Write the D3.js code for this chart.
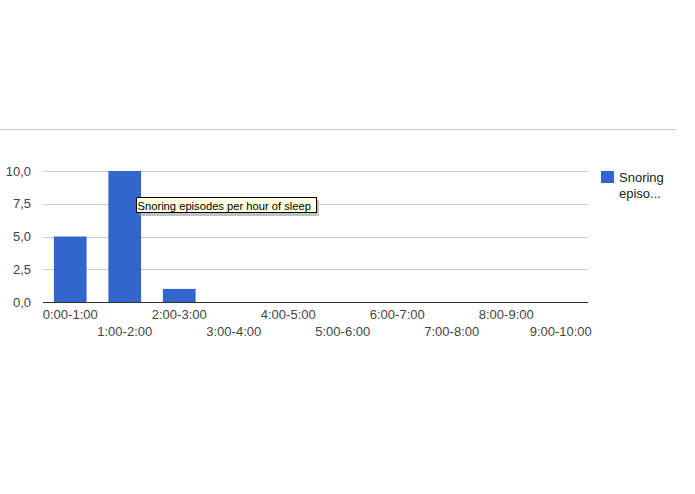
<!DOCTYPE html>
<html><head><meta charset="utf-8">
<script src="https://cdn.jsdelivr.net/npm/d3@7/dist/d3.min.js"></script>
<style>body{margin:0;background:#fff;}svg{display:block;font-family:Arial,"Liberation Sans",sans-serif;}</style>
</head><body>
<svg id="c" width="695" height="494"></svg>
<script>
const categories = ["0:00-1:00","1:00-2:00","2:00-3:00","3:00-4:00","4:00-5:00","5:00-6:00","6:00-7:00","7:00-8:00","8:00-9:00","9:00-10:00"];
const values = [5, 10, 1, 0, 0, 0, 0, 0, 0, 0];
const yTicks = [0, 2.5, 5, 7.5, 10];
const seriesName = "Snoring episodes per hour of sleep";
const legendLines = ["Snoring", "episo..."];

(function(){
const svg = d3.select("#c");
const pLeft = 43, pRight = 588, pTop = 171, pBottom = 302;

// top separator line
svg.append("line").attr("x1",0).attr("x2",677).attr("y1",129.5).attr("y2",129.5)
  .attr("stroke","#cccccc").attr("stroke-width",1);

const x = d3.scaleBand().domain(categories).range([pLeft, pRight]).paddingInner(0.4).paddingOuter(0.2);
const y = d3.scaleLinear().domain([0, 10]).range([pBottom, pTop]);

const fmt = d => d3.format(".1f")(d).replace(".", ",");

// gridlines
svg.append("g").selectAll("line").data(yTicks.filter(d=>d>0)).join("line")
  .attr("x1",pLeft).attr("x2",pRight)
  .attr("y1",d=>Math.round(y(d))+0.5).attr("y2",d=>Math.round(y(d))+0.5)
  .attr("stroke","#cccccc");

// y labels
svg.append("g").selectAll("text").data(yTicks).join("text")
  .attr("x",31).attr("y",d=>y(d)+4.5).attr("text-anchor","end")
  .attr("font-size",13).attr("fill","#444").text(fmt);

// bars
svg.append("g").selectAll("rect").data(values.map((v,i)=>({c:categories[i],v}))).join("rect")
  .attr("x",d=>x(d.c)).attr("width",x.bandwidth())
  .attr("y",d=>y(d.v)).attr("height",d=>y(0)-y(d.v))
  .attr("fill","#3366cc");

// baseline axis
svg.append("line").attr("x1",pLeft).attr("x2",pRight).attr("y1",pBottom+0.5).attr("y2",pBottom+0.5)
  .attr("stroke","#333").attr("stroke-width",1);

// x labels (alternating rows)
svg.append("g").selectAll("text").data(categories).join("text")
  .attr("x",d=>x(d)+x.bandwidth()/2).attr("y",(d,i)=> i%2===0 ? 319 : 336)
  .attr("text-anchor","middle").attr("font-size",13).attr("fill","#444").text(d=>d);

// legend
svg.append("rect").attr("x",601).attr("y",171).attr("width",13).attr("height",12).attr("fill","#3366cc");
svg.append("g").selectAll("text").data(legendLines).join("text")
  .attr("x",619).attr("y",(d,i)=>182+i*16).attr("font-size",13).attr("fill","#222").text(d=>d);

// tooltip
const tip = svg.append("g");
tip.append("rect").attr("x",139).attr("y",200).attr("width",180).attr("height",16).attr("fill","#999").attr("opacity",0.6);
tip.append("rect").attr("x",136.5).attr("y",197.5).attr("width",180).attr("height",15)
  .attr("fill","#ffffdd").attr("stroke","#000").attr("stroke-width",1);
tip.append("text").attr("x",137.5).attr("y",209.5).attr("font-size",11.2).attr("fill","#000").text(seriesName);
})();
</script>
</body></html>
